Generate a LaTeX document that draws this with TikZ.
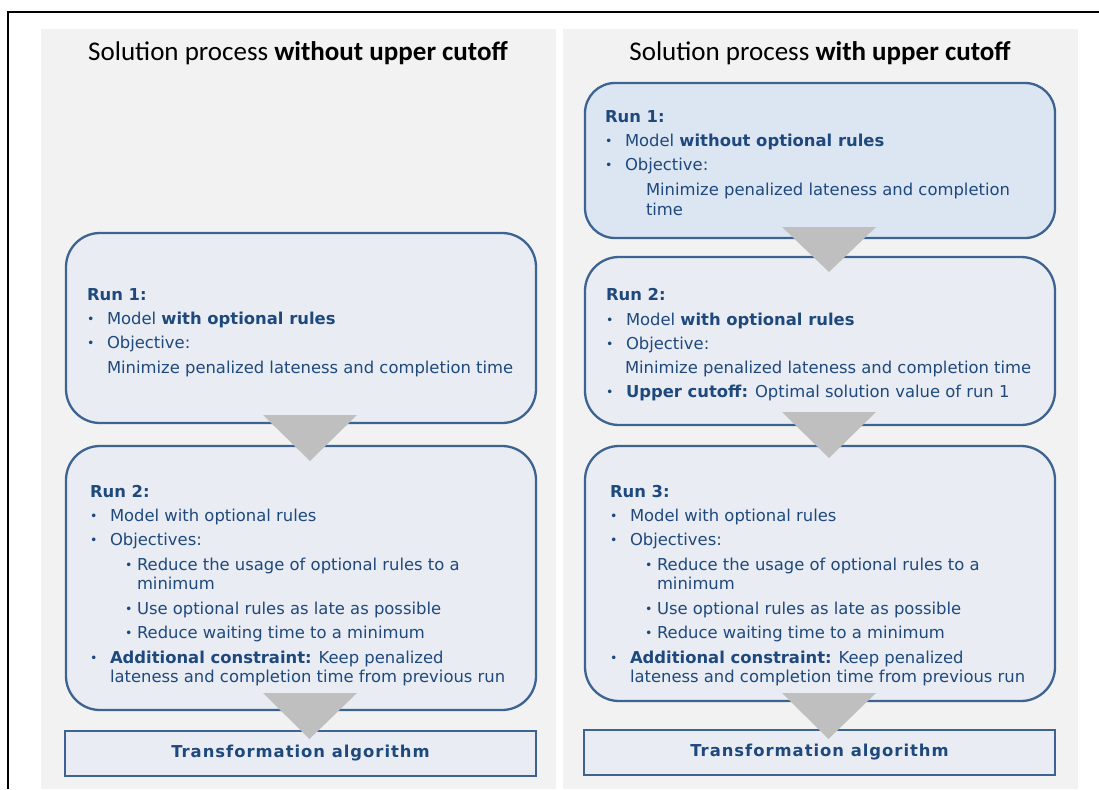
\documentclass[tikz,border=0pt]{standalone}
\usepackage{fontspec}
\setmainfont{DejaVu Sans}
\newfontfamily\titlefont{Carlito}
\usetikzlibrary{calc}
\definecolor{tblue}{HTML}{1F497D}
\definecolor{bline}{HTML}{3C6391}
\definecolor{bfill}{HTML}{E9EDF3}
\definecolor{bfillA}{HTML}{DCE6F2}
\definecolor{panelc}{HTML}{F2F2F2}
\definecolor{tric}{HTML}{BFBFBF}
\newcommand{\bul}{\makebox[20pt][l]{\fontsize{12.5}{12}\selectfont\raisebox{0.5pt}{•}}}
\newcommand{\sbul}{\makebox[12pt][l]{\fontsize{12.5}{12}\selectfont\raisebox{0.5pt}{•}}}
\tikzset{
  panel/.style={fill=panelc, inner sep=0pt, outer sep=0pt, minimum width=515pt, minimum height=760pt},
  runbox/.style={draw=bline, fill=bfill, line width=2.3pt, rounded corners=34pt, inner sep=0pt, outer sep=0pt, minimum width=470pt},
  algbox/.style={draw=bline, fill=bfill, line width=2.3pt, inner sep=0pt, outer sep=0pt, minimum width=471pt, minimum height=45pt, text=tblue, font=\fontsize{16.4}{20}\selectfont\bfseries},
  txt/.style={anchor=base west, inner sep=0pt, outer sep=0pt, text=tblue, font=\fontsize{16.4}{20}\selectfont},
  ttl/.style={anchor=base, inner sep=0pt, text=black, font=\titlefont\fontsize{27}{30}\selectfont},
  tri/.style={fill=tric, draw=none},
}
\begin{document}
\begin{tikzpicture}[x=1pt,y=-1pt]
\useasboundingbox (0,0) rectangle (1099,789);
\fill[white] (0,0) rectangle (1099,789);
\draw[black, line width=1.2pt] (8,789) -- (8,12) -- (1099,12);

\node[panel] (PL) at (298.5,409) {};
\node[panel] (PR) at (820.5,409) {};

\node[ttl] (TL) at (298,61) {Solution process \textbf{without upper cutoff}};
\node[ttl] (TR) at (820,61) {Solution process \textbf{with upper cutoff}};

% left boxes
\node[runbox, minimum height=190pt] (L1) at (301,328) {};
\node[runbox, minimum height=264pt] (L2) at (301,578) {};
\node[algbox] (LA) at (300.5,753.5) {};
% right boxes
\node[runbox, fill=bfillA, rounded corners=30pt, minimum height=155pt] (R1) at (820,160.5) {};
\node[runbox, minimum height=168pt] (R2) at (820,341) {};
\node[runbox, minimum height=255pt] (R3) at (820,573.5) {};
\node[algbox] (RA) at (819.5,752.5) {};

% arrows (triangles)
\fill[tri] ($(L1.south)+(9,-8)$) +(-47,0) -- +(47,0) -- ($(L2.north)+(9,15)$) -- cycle;
\fill[tri] ($(L2.south)+(9,-17)$) +(-47,0) -- +(47,0) -- ($(LA.north)+(9,8)$) -- cycle;
\fill[tri] ($(R1.south)+(9,-11)$) +(-47,0) -- +(47,0) -- ($(R2.north)+(9,15)$) -- cycle;
\fill[tri] ($(R2.south)+(9,-13)$) +(-47,0) -- +(47,0) -- ($(R3.north)+(9,12)$) -- cycle;
\fill[tri] ($(R3.south)+(9,-8)$) +(-47,0) -- +(47,0) -- ($(RA.north)+(9,9)$) -- cycle;

% algorithm labels
\node[algbox, draw=none, fill=none] (LAt) at (LA) {\addfontfeatures{LetterSpace=6}Transformation algorithm};
\node[algbox, draw=none, fill=none] (RAt) at (RA) {\addfontfeatures{LetterSpace=6}Transformation algorithm};

% left run 1
\node[txt] (l1h) at (87,300) {\bfseries Run 1:};
\node[txt] (l1a) at (87,324) {\bul Model \textbf{with optional rules}};
\node[txt] (l1b) at (87,348) {\bul Objective:};
\node[txt] (l1c) at (107,373) {Minimize penalized lateness and completion time};

% left run 2
\node[txt] (l2h) at (90,497) {\bfseries Run 2:};
\node[txt] (l2a) at (90,521) {\bul Model with optional rules};
\node[txt] (l2b) at (90,545) {\bul Objectives:};
\node[txt] (l2c) at (125,570) {\sbul Reduce the usage of optional rules to a};
\node[txt] (l2d) at (137,589) {minimum};
\node[txt] (l2e) at (125,614) {\sbul Use optional rules as late as possible};
\node[txt] (l2f) at (125,638) {\sbul Reduce waiting time to a minimum};
\node[txt] (l2g) at (90,663) {\bul \textbf{Additional constraint:} Keep penalized};
\node[txt] (l2i) at (110,682) {lateness and completion time from previous run};

% right run 1
\node[txt] (r1h) at (605,122) {\bfseries Run 1:};
\node[txt] (r1a) at (605,146) {\bul Model \textbf{without optional rules}};
\node[txt] (r1b) at (605,170) {\bul Objective:};
\node[txt] (r1c) at (646,195) {Minimize penalized lateness and completion};
\node[txt] (r1d) at (646,215) {time};

% right run 2
\node[txt] (r2h) at (606,300) {\bfseries Run 2:};
\node[txt] (r2a) at (606,325) {\bul Model \textbf{with optional rules}};
\node[txt] (r2b) at (606,349) {\bul Objective:};
\node[txt] (r2c) at (625,373) {Minimize penalized lateness and completion time};
\node[txt] (r2d) at (606,397) {\bul \textbf{Upper cutoff:} Optimal solution value of run 1};

% right run 3
\node[txt] (r3h) at (610,497) {\bfseries Run 3:};
\node[txt] (r3a) at (610,521) {\bul Model with optional rules};
\node[txt] (r3b) at (610,545) {\bul Objectives:};
\node[txt] (r3c) at (645,570) {\sbul Reduce the usage of optional rules to a};
\node[txt] (r3d) at (657,589) {minimum};
\node[txt] (r3e) at (645,614) {\sbul Use optional rules as late as possible};
\node[txt] (r3f) at (645,638) {\sbul Reduce waiting time to a minimum};
\node[txt] (r3g) at (610,663) {\bul \textbf{Additional constraint:} Keep penalized};
\node[txt] (r3i) at (630,682) {lateness and completion time from previous run};
\end{tikzpicture}
\end{document}
